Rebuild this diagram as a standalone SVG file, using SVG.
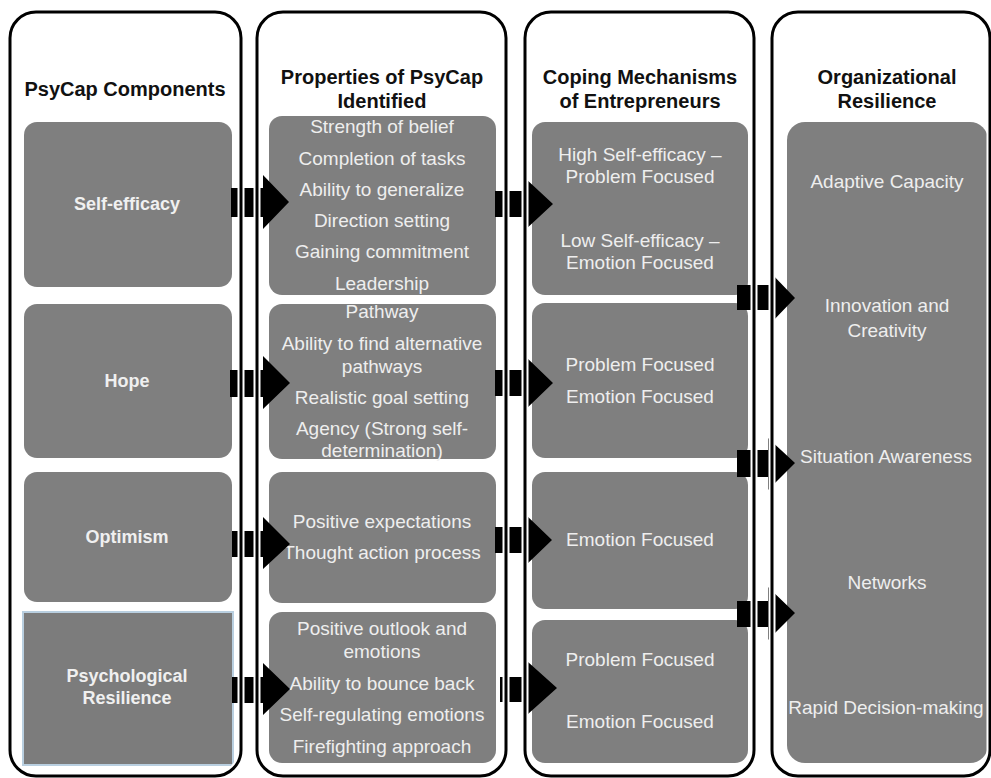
<svg xmlns="http://www.w3.org/2000/svg" width="991" height="778" viewBox="0 0 991 778">
<style>
.col-halo{fill:none;stroke:#ffffff;stroke-width:7}
.col{fill:none;stroke:#000000;stroke-width:3}
.box{fill:#7f7f7f}
.hd{font-family:"Liberation Sans",Arial,sans-serif;font-weight:bold;font-size:20px;fill:#111111;text-anchor:middle}
.lb{font-family:"Liberation Sans",Arial,sans-serif;font-weight:bold;font-size:18px;fill:#f0f0f0;text-anchor:middle}
.tx{font-family:"Liberation Sans",Arial,sans-serif;font-size:19px;fill:#eeeeee;text-anchor:middle}
.arr{fill:#000000}
</style>
<rect width="991" height="778" fill="#ffffff"/>

<g id="headers">
<text class="hd" x="125" y="96">PsyCap Components</text>
<text class="hd" x="382" y="84">Properties of PsyCap</text>
<text class="hd" x="382" y="108">Identified</text>
<text class="hd" x="640" y="84">Coping Mechanisms</text>
<text class="hd" x="640" y="108">of Entrepreneurs</text>
<text class="hd" x="887" y="84">Organizational</text>
<text class="hd" x="887" y="108">Resilience</text>
</g>

<g id="self-efficacy">
<rect class="box" x="24" y="122" width="208" height="165" rx="13"/>
<text class="lb" x="127" y="210">Self-efficacy</text>
</g>
<g id="hope">
<rect class="box" x="24" y="304" width="208" height="154" rx="13"/>
<text class="lb" x="127" y="387">Hope</text>
</g>
<g id="optimism">
<rect class="box" x="24" y="472" width="208" height="130" rx="13"/>
<text class="lb" x="127" y="543">Optimism</text>
</g>
<g id="psychological-resilience">
<rect x="23" y="612" width="210" height="153" fill="#7c7c7c" stroke="#b9cfe0" stroke-width="2"/>
<text class="lb" x="127" y="682">Psychological</text>
<text class="lb" x="127" y="704">Resilience</text>
</g>

<g id="props-self-efficacy">
<rect class="box" x="269" y="116" width="227" height="179" rx="13"/>
<text class="tx" x="382" y="133">Strength of belief</text>
<text class="tx" x="382" y="165">Completion of tasks</text>
<text class="tx" x="382" y="196">Ability to generalize</text>
<text class="tx" x="382" y="227">Direction setting</text>
<text class="tx" x="382" y="258">Gaining commitment</text>
<text class="tx" x="382" y="290">Leadership</text>
</g>
<g id="props-hope">
<rect class="box" x="269" y="304" width="227" height="155" rx="13"/>
<text class="tx" x="382" y="318">Pathway</text>
<text class="tx" x="382" y="350">Ability to find alternative</text>
<text class="tx" x="382" y="373">pathways</text>
<text class="tx" x="382" y="404">Realistic goal setting</text>
<text class="tx" x="382" y="435">Agency (Strong self-</text>
<text class="tx" x="382" y="457">determination)</text>
</g>
<g id="props-optimism">
<rect class="box" x="269" y="472" width="227" height="131" rx="13"/>
<text class="tx" x="382" y="528">Positive expectations</text>
<text class="tx" x="382" y="559">Thought action process</text>
</g>
<g id="props-resilience">
<rect class="box" x="269" y="612" width="227" height="151" rx="13"/>
<text class="tx" x="382" y="635">Positive outlook and</text>
<text class="tx" x="382" y="658">emotions</text>
<text class="tx" x="382" y="690">Ability to bounce back</text>
<text class="tx" x="382" y="721">Self-regulating emotions</text>
<text class="tx" x="382" y="753">Firefighting approach</text>
</g>

<g id="coping-self-efficacy">
<rect class="box" x="532" y="122" width="216" height="173" rx="13"/>
<text class="tx" x="640" y="161">High Self-efficacy –</text>
<text class="tx" x="640" y="183">Problem Focused</text>
<text class="tx" x="640" y="247">Low Self-efficacy –</text>
<text class="tx" x="640" y="269">Emotion Focused</text>
</g>
<g id="coping-hope">
<rect class="box" x="532" y="303" width="216" height="155" rx="13"/>
<text class="tx" x="640" y="371">Problem Focused</text>
<text class="tx" x="640" y="403">Emotion Focused</text>
</g>
<g id="coping-optimism">
<rect class="box" x="532" y="472" width="216" height="137" rx="13"/>
<text class="tx" x="640" y="546">Emotion Focused</text>
</g>
<g id="coping-resilience">
<rect class="box" x="532" y="620" width="216" height="143" rx="13"/>
<text class="tx" x="640" y="666">Problem Focused</text>
<text class="tx" x="640" y="728">Emotion Focused</text>
</g>

<g id="organizational-resilience">
<rect class="box" x="787" y="122" width="201" height="641" rx="18"/>
<text class="tx" x="887" y="188">Adaptive Capacity</text>
<text class="tx" x="887" y="312">Innovation and</text>
<text class="tx" x="887" y="337">Creativity</text>
<text class="tx" x="886" y="463">Situation Awareness</text>
<text class="tx" x="887" y="589">Networks</text>
<text class="tx" x="886" y="714">Rapid Decision-making</text>
</g>

<g id="connectors">
<polygon class="arr" points="231,188 263,188 263,175 289,202 263,229 263,217 231,217"/>
<polygon class="arr" points="230,370 263,370 263,356 290,383 263,409 263,397 230,397"/>
<polygon class="arr" points="232,531 263,531 263,517 290,544 263,569 263,557 232,557"/>
<polygon class="arr" points="232,677 263,677 263,663 290,689 263,715 263,703 232,703"/>
<polygon class="arr" points="495,191 525,191 525,178 553,204 525,230 525,217 495,217"/>
<polygon class="arr" points="495,370 525,370 525,356 553,383 525,410 525,396 495,396"/>
<polygon class="arr" points="495,527 525,527 525,514 552,540 525,566 525,553 495,553"/>
<polygon class="arr" points="500,677 528,677 528,662 557,688 528,714 528,702 500,702"/>
<polygon class="arr" points="737,285 770,285 770,272 795,298 770,324 770,310 737,310"/>
<polygon class="arr" points="737,450 768,450 768,438 795,463 768,490 768,477 737,477"/>
<polygon class="arr" points="737,601 768,601 768,587 795,613 768,640 768,627 737,627"/>
</g>

<g id="columns">
<rect class="col-halo" x="10" y="12" width="231" height="764" rx="26"/>
<rect class="col" x="10" y="12" width="231" height="764" rx="26"/>
<rect class="col-halo" x="257" y="12" width="249" height="764" rx="26"/>
<rect class="col" x="257" y="12" width="249" height="764" rx="26"/>
<rect class="col-halo" x="525" y="12" width="229" height="764" rx="26"/>
<rect class="col" x="525" y="12" width="229" height="764" rx="26"/>
<rect class="col-halo" x="772" y="12" width="218" height="764" rx="26"/>
<rect class="col" x="772" y="12" width="218" height="764" rx="26"/>
</g>
</svg>
